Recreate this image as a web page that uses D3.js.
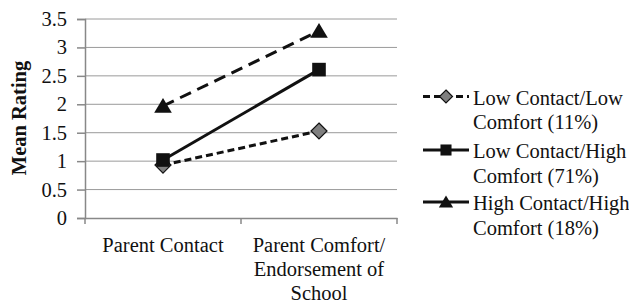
<!DOCTYPE html>
<html>
<head>
<meta charset="utf-8">
<script src="https://cdn.jsdelivr.net/npm/d3@7"></script>
<style>
body { margin: 0; background: #fff; }
</style>
</head>
<body>
<div id="chart-area"></div>
<script>
// chart size
var width = 629,
	height = 302;
var fontName = "Liberation Serif";
var fontSize = 20.5;

var categories = ["Parent Contact", "Parent Comfort/\nEndorsement of\nSchool"];
var yTicks = [0, 0.5, 1, 1.5, 2, 2.5, 3, 3.5];

var lowLow = [0.93, 1.53];
var lowHigh = [1.02, 2.61];
var highHigh = [1.97, 3.29];

var seriesNames = [
	["Low Contact/Low", "Comfort (11%)"],
	["Low Contact/High", "Comfort (71%)"],
	["High Contact/High", "Comfort (18%)"]
];

var series = [
	{name: seriesNames[0], values: lowLow, dash: "7,4", legendDash: "7,4", marker: "diamond"},
	{name: seriesNames[1], values: lowHigh, dash: null, legendDash: null, marker: "square"},
	{name: seriesNames[2], values: highHigh, dash: "12,7", legendDash: null, marker: "triangle"}
];

var margin = {left: 85, right: 232, top: 19, bottom: 84};

var svg = d3.select("#chart-area").append("svg")
	.attr("width", width).attr("height", height)
	.attr("font-family", fontName);

var x = d3.scaleBand()
	.domain(categories)
	.range([margin.left, width - margin.right]);

var y = d3.scaleLinear()
	.domain([0, 3.5])
	.range([height - margin.bottom, margin.top]);

// gridlines
svg.append("g")
	.selectAll("line")
	.data(yTicks.filter(function(d) { return d > 0; }))
	.enter().append("line")
	.attr("x1", margin.left).attr("x2", width - margin.right)
	.attr("y1", function(d) { return y(d); })
	.attr("y2", function(d) { return y(d); })
	.attr("stroke", "#9a9a9a").attr("stroke-width", 1);

// y axis
var yAxis = d3.axisLeft(y)
	.tickValues(yTicks)
	.tickSize(8)
	.tickPadding(10)
	.tickFormat(function(d) { return d; });
var gy = svg.append("g")
	.attr("transform", "translate(" + margin.left + ",0)")
	.call(yAxis)
	.attr("font-family", fontName).attr("font-size", fontSize);
gy.select(".domain").attr("stroke", "#888").attr("stroke-width", 1.5);
gy.selectAll(".tick line").attr("stroke", "#888").attr("stroke-width", 1.5);
gy.selectAll(".tick text").attr("fill", "#111");

// x axis
var xAxis = d3.axisBottom(x).tickSize(0).tickFormat("");
var gx = svg.append("g")
	.attr("transform", "translate(0," + y(0) + ")")
	.call(xAxis);
gx.select(".domain").attr("stroke", "#888").attr("stroke-width", 1.5);
// boundary ticks between categories
var bounds = [x.range()[0], x.range()[0] + x.bandwidth(), x.range()[1]];
gx.selectAll("line.sep")
	.data(bounds)
	.enter().append("line")
	.attr("class", "sep")
	.attr("x1", function(d) { return d; }).attr("x2", function(d) { return d; })
	.attr("y1", 0).attr("y2", 6)
	.attr("stroke", "#888").attr("stroke-width", 1.5);

// category labels
categories.forEach(function(c) {
	var lines = c.split("\n");
	var t = svg.append("text")
		.attr("text-anchor", "middle")
		.attr("font-family", fontName)
		.attr("font-size", fontSize)
		.attr("fill", "#111");
	lines.forEach(function(l, i) {
		t.append("tspan")
			.attr("x", x(c) + x.bandwidth() / 2)
			.attr("y", 251.5 + i * 24)
			.text(l);
	});
});

// y label
svg.append("text")
	.attr("transform", "translate(26," + 118 + ") rotate(-90)")
	.attr("text-anchor", "middle")
	.attr("font-family", fontName)
	.attr("font-size", fontSize)
	.attr("font-weight", "bold")
	.attr("fill", "#111")
	.text("Mean Rating");

var line = d3.line()
	.x(function(d, i) { return x(categories[i]) + x.bandwidth() / 2; })
	.y(function(d) { return y(d); });

function drawMarker(g, type, cx, cy, s) {
	if (type == "diamond") {
		g.append("path")
			.attr("d", "M" + cx + "," + (cy - s) + "L" + (cx + s) + "," + cy + "L" + cx + "," + (cy + s) + "L" + (cx - s) + "," + cy + "Z")
			.attr("fill", "#7f7f7f").attr("stroke", "#111").attr("stroke-width", 1.2);
	} else if (type == "square") {
		g.append("rect")
			.attr("x", cx - s * 0.85).attr("y", cy - s * 0.85)
			.attr("width", s * 1.7).attr("height", s * 1.7)
			.attr("fill", "#111");
	} else {
		g.append("path")
			.attr("d", "M" + cx + "," + (cy - s) + "L" + (cx + s * 1.1) + "," + (cy + s * 0.85) + "L" + (cx - s * 1.1) + "," + (cy + s * 0.85) + "Z")
			.attr("fill", "#111");
	}
}

series.forEach(function(s) {
	svg.append("path")
		.datum(s.values)
		.attr("d", line)
		.attr("fill", "none")
		.attr("stroke", "#111")
		.attr("stroke-width", 3)
		.attr("stroke-dasharray", s.dash);
});
series.forEach(function(s) {
	var g = svg.append("g");
	s.values.forEach(function(v, i) {
		drawMarker(g, s.marker, x(categories[i]) + x.bandwidth() / 2, y(v), 8);
	});
});

// legend
var legendY = [96.5, 150, 202];
series.forEach(function(s, i) {
	var g = svg.append("g").attr("transform", "translate(423," + legendY[i] + ")");
	g.append("line")
		.attr("x1", 0).attr("x2", 46)
		.attr("y1", 0).attr("y2", 0)
		.attr("stroke", "#111").attr("stroke-width", 3)
		.attr("stroke-dasharray", s.legendDash);
	drawMarker(g, s.marker, 23, 0, 6.5);
	var t = g.append("text")
		.attr("font-family", fontName)
		.attr("font-size", fontSize)
		.attr("fill", "#111");
	s.name.forEach(function(l, j) {
		t.append("tspan").attr("x", 50).attr("y", 8 + j * 24.7).text(l);
	});
});
</script>
</body>
</html>
